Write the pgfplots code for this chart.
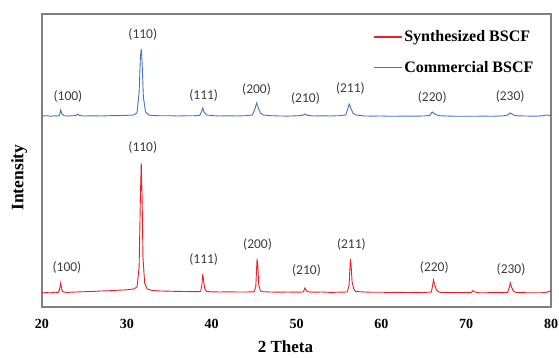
\documentclass[border=0pt]{standalone}
\usepackage{pgfplots}
\pgfplotsset{compat=1.18}
\usepackage{fontspec}
\setmainfont{Liberation Serif}
\newfontfamily\calib{Carlito}
\definecolor{synred}{RGB}{237,28,36}
\definecolor{comblue}{RGB}{68,114,196}
\definecolor{framegray}{RGB}{128,128,128}
\definecolor{lblgray}{RGB}{60,60,60}
\begin{document}
\begin{tikzpicture}[x=1pt,y=1pt]
\useasboundingbox (-42,-51) rectangle (517,307);
\begin{axis}[
  at={(0,0)}, anchor=south west,
  scale only axis, width=509pt, height=293pt,
  xmin=20, xmax=80, ymin=0, ymax=293,
  xtick={20,30,...,80}, ytick=\empty,
  major tick length=0pt,
  axis line style={framegray, line width=1.1pt},
  /pgf/number format/assume math mode=true,
  xticklabel style={font=\fontsize{14}{16}\selectfont\bfseries, yshift=-9pt},
  xlabel={2 Theta}, ylabel={Intensity},
  xlabel style={font=\fontsize{17}{19}\selectfont\bfseries, at={(axis description cs:0.5,0)}, anchor=base, yshift=-46pt, xshift=-11pt},
  ylabel style={font=\fontsize{17.5}{19}\selectfont\bfseries, at={(axis description cs:-0.045,0.442)}, anchor=center},
  legend style={draw=none, fill=none, at={(0.65,0.95)}, anchor=north west,
    font=\fontsize{16}{18}\selectfont\bfseries, row sep=14pt,
    inner sep=0pt, cells={anchor=west}},
  legend image code/.code={\draw[#1] (0pt,0pt) -- (28pt,0pt);},
  clip=false,
]
\addlegendimage{draw=synred, line width=1.3pt}
\addlegendentry{Synthesized BSCF}
\addlegendimage{draw=comblue, line width=1.3pt}
\addlegendentry{Commercial BSCF}
\addplot[synred, line width=0.9pt, forget plot] coordinates {
(20,14) (20.5,14.5) (21,14) (21.5,14.8) (21.9,14.5) (22.05,17) (22.2,24) (22.35,17) (22.5,15) (23,14.6) (24,15) (25,15.3) (26,15.6) (27,16) (28,16.3) (29,16.8) (30,17.2) (30.8,18) (31.2,20) (31.45,40) (31.6,110) (31.7,144) (31.8,110) (31.9,50) (32.1,24) (32.4,18) (33,16.5) (34,16) (35,15.8) (36,15.6) (37,15.5) (38,15.3) (38.7,15.5) (38.85,22) (38.95,33) (39.05,26) (39.2,18) (39.4,15.5) (40,15.2) (41,15) (42,15.2) (43,15) (44,15) (45,15.2) (45.2,20) (45.35,48) (45.45,40) (45.55,22) (45.75,16) (46,15.3) (47,15) (48,14.8) (49,15) (50,14.8) (50.8,15) (51,19) (51.2,16) (51.5,15) (52,14.8) (53,15) (54,14.6) (55,14.8) (56,15) (56.2,22) (56.35,48) (56.45,40) (56.55,25) (56.75,18) (57,15.5) (58,15) (59,14.7) (60,14.8) (61,14.5) (62,14.7) (63,14.5) (64,14.6) (65,14.5) (65.9,15) (66.05,22) (66.15,27) (66.3,22) (66.5,17) (66.8,15) (67,14.6) (68,14.3) (69,14.5) (70,14.3) (70.6,14.5) (70.8,16.5) (71,15) (71.5,14.3) (72,14.2) (73,14.4) (74,14.3) (74.9,14.6) (75.1,20) (75.2,24) (75.35,20) (75.55,16) (75.8,14.8) (76,14.5) (77,14.3) (78,14.2) (79,14.3) (79.6,15) (79.9,16) (80,15.5)
};
\addplot[comblue, line width=0.9pt, forget plot] coordinates {
(20,191) (20.5,191.3) (21,190.8) (21.5,191.2) (22,191) (22.1,193) (22.2,197) (22.35,193) (22.6,191.3) (23,191) (23.5,191.2) (24,191.5) (24.2,193) (24.4,191.5) (25,191) (26,191.2) (27,191) (28,191.3) (29,191.4) (30,191.6) (30.8,192) (31.2,194) (31.45,215) (31.6,250) (31.7,258) (31.8,245) (31.95,210) (32.2,195) (32.6,192) (33,191.5) (34,191.2) (35,191.3) (36,191) (37,191.2) (38,191.3) (38.6,191.6) (38.8,195) (38.95,199) (39.1,195) (39.4,192) (40,191.4) (41,191) (42,191.2) (43,191) (44,191.3) (44.8,192) (45.1,198) (45.3,204) (45.5,199) (45.75,194) (46.1,192) (47,191.3) (48,191) (49,190.9) (50,191.2) (50.7,191.6) (51,193) (51.3,191.6) (52,191) (53,191.2) (54,191) (55,191.3) (55.8,192) (56.05,198) (56.2,203) (56.4,199) (56.65,194) (57,192) (57.5,191.5) (58,191) (59,190.9) (60,191) (61,190.7) (62,190.8) (63,190.9) (64,190.8) (65,191) (65.7,191.5) (66,195) (66.3,193) (66.7,191.5) (67,191.2) (68,190.9) (69,190.7) (70,190.8) (71,190.7) (72,190.9) (73,190.7) (74,191) (74.8,191.5) (75.2,194) (75.6,192) (76,191.2) (77,191) (78,190.8) (79,191.2) (79.5,192) (80,191.4)
};
\begin{scope}[every node/.style={font=\calib\fontsize{13.5}{15}\selectfont, text=lblgray}]
\node at (axis cs:23.06,210) {(100)};
\node at (axis cs:31.88,272) {(110)};
\node at (axis cs:39.06,211) {(111)};
\node at (axis cs:45.29,217) {(200)};
\node at (axis cs:51.06,208) {(210)};
\node at (axis cs:56.35,218) {(211)};
\node at (axis cs:66.0,209) {(220)};
\node at (axis cs:75.18,210) {(230)};
\node at (axis cs:22.94,39) {(100)};
\node at (axis cs:31.88,159) {(110)};
\node at (axis cs:39.06,47) {(111)};
\node at (axis cs:45.41,62) {(200)};
\node at (axis cs:51.18,36) {(210)};
\node at (axis cs:56.47,62) {(211)};
\node at (axis cs:66.24,39) {(220)};
\node at (axis cs:75.29,37) {(230)};
\end{scope}
\end{axis}
\end{tikzpicture}
\end{document}
